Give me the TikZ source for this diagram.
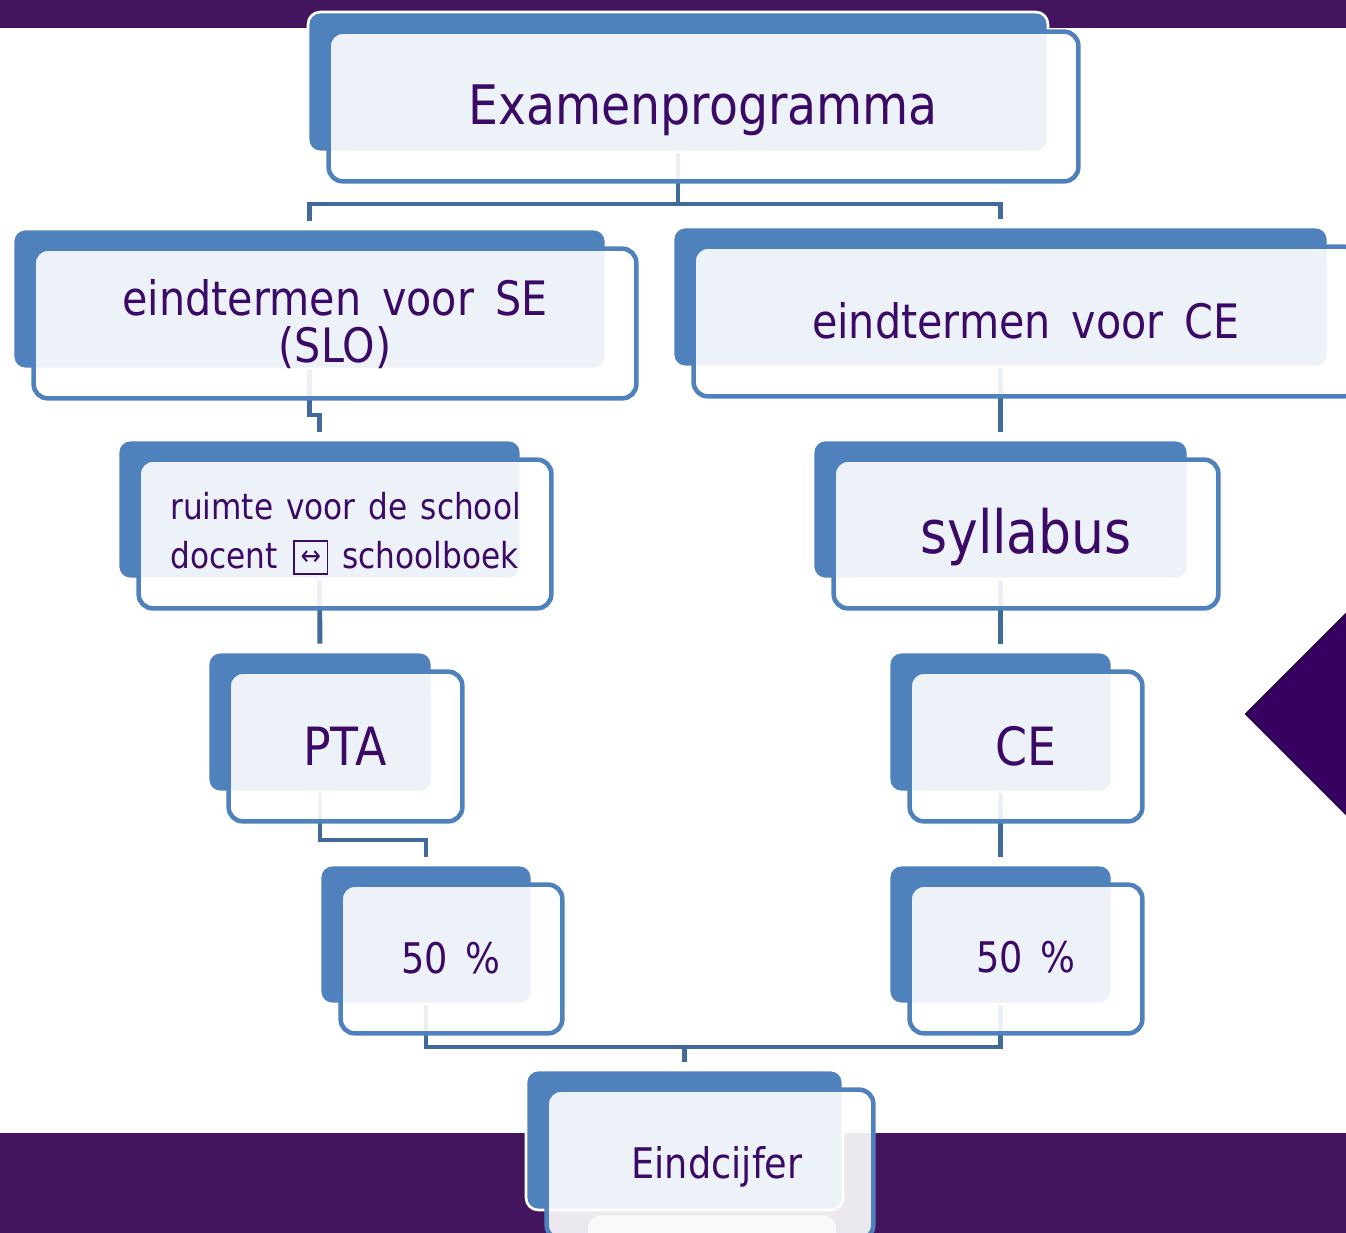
\documentclass[tikz,border=0pt]{standalone}
\usepackage{fontspec}
\setmainfont{DejaVu Sans}[FakeStretch=0.87]
\usetikzlibrary{fit}
\definecolor{bandpurple}{HTML}{42155E}
\definecolor{ruitpurple}{HTML}{380060}
\definecolor{ruitrand}{HTML}{2A0048}
\definecolor{blokblue}{HTML}{4F81BD}
\definecolor{lijnblue}{HTML}{41699A}
\definecolor{tekstpurple}{HTML}{3A0A66}
\newcommand{\woordruimte}[1]{\spaceskip #1\relax}
\tikzset{
	backbox/.style={fill=blokblue, draw=white, line width=1.5pt, rounded corners=7pt, inner sep=0pt},
	frontbox/.style={fill=white, fill opacity=0.9, draw=blokblue, line width=2.6pt, rounded corners=8pt},
	verbinding/.style={draw=lijnblue, line width=2.8pt, shorten >=4pt},
	tekst/.style={text=tekstpurple, inner sep=0pt, anchor=base}
}
\newcommand{\voorkant}[1]{%
	\draw[frontbox] ([shift={(22,21)}]#1.north west) rectangle ([shift={(29,28)}]#1.south east);}
\newcommand{\pijlbox}{\raisebox{-3pt}{\fboxsep=0pt\fboxrule=1pt\fbox{\makebox[18pt][c]{\rule{0pt}{18pt}\raisebox{4.2pt}{\fontsize{16}{16}\selectfont ↔}}}}}

\begin{document}
\begin{tikzpicture}[x=0.02cm,y=-0.02cm]
	\clip (0,0) rectangle (1346,1233);
	\fill[white] (0,0) rectangle (1346,1233);
	\fill[bandpurple] (0,0) rectangle (1346,28);
	\fill[bandpurple] (0,1133) rectangle (1346,1233);
	\draw[fill=ruitpurple, draw=ruitrand, line width=1.2pt] (1246,714) -- (1348,612) -- (1450,714) -- (1348,816) -- cycle;
	% achterste blokken
	\node[backbox, fit={(308,12) (1048,152)}] (exa) {};
	\node[backbox, fit={(13,229) (606,369)}] (se) {};
	\node[backbox, fit={(673,227) (1328,367)}] (ce) {};
	\node[backbox, fit={(118,440) (521,579)}] (ruimte) {};
	\node[backbox, fit={(813,440) (1188,579)}] (syl) {};
	\node[backbox, fit={(208,652) (432,792)}] (pta) {};
	\node[backbox, fit={(889,652) (1112,792)}] (cex) {};
	\node[backbox, fit={(320,865) (532,1004)}] (sel) {};
	\node[backbox, fit={(889,865) (1112,1004)}] (cel) {};
	\node[backbox, fit={(526,1070) (843,1210)}] (eind) {};
	% verbindingen
	\draw[verbinding] (exa.south) -- (exa.south |- 0,204) -| (se.north);
	\draw[verbinding] (exa.south) -- (exa.south |- 0,204) -| (ce.north);
	\draw[verbinding] (se.south) -- (se.south |- 0,415) -| (ruimte.north);
	\draw[verbinding] (ce.south) -- (syl.north);
	\draw[verbinding] (ruimte.south) -- (pta.north);
	\draw[verbinding] (syl.south) -- (cex.north);
	\draw[verbinding] (pta.south) -- (pta.south |- 0,840) -| (sel.north);
	\draw[verbinding] (cex.south) -- (cel.north);
	\draw[verbinding] (sel.south) -- (sel.south |- 0,1047) -| (eind.north);
	\draw[verbinding] (cel.south) -- (cel.south |- 0,1047) -| (eind.north);
	% voorste blokken
	\foreach \b in {exa,se,ce,ruimte,syl,pta,cex,sel,cel,eind}
		\voorkant{\b};
	\fill[white, fill opacity=0.75, rounded corners=8pt] (588,1215) rectangle (836,1250);
	% teksten
	\node[tekst, font=\fontsize{31}{31}\selectfont] (t-exa) at (703,125) {Examenprogramma};
	\node[tekst, font={\fontsize{27}{26.6}\selectfont\woordruimte{12pt}}, align=center] (t-se) at (335,362) {eindtermen voor SE\\(SLO)};
	\node[tekst, font={\fontsize{27}{26.6}\selectfont\woordruimte{12pt}}] (t-ce) at (1026,338) {eindtermen voor CE};
	\node[tekst, font={\fontsize{20.4}{27.8}\selectfont\woordruimte{7.4pt}}, align=left, anchor=base west] (t-ruimte) at (170,568) {ruimte voor de school\\docent\hspace{9pt}\pijlbox\hspace{8pt}schoolboek};
	\node[tekst, font=\fontsize{34}{34}\selectfont] (t-syl) at (1026,553) {syllabus};
	\node[tekst, font=\fontsize{30}{30}\selectfont] (t-pta) at (345,765) {PTA};
	\node[tekst, font=\fontsize{30}{30}\selectfont] (t-cex) at (1026,765) {CE};
	\node[tekst, font={\fontsize{24}{24}\selectfont\woordruimte{10pt}}] (t-sel) at (451,973) {50 \%};
	\node[tekst, font={\fontsize{24}{24}\selectfont\woordruimte{10pt}}] (t-cel) at (1026,972) {50 \%};
	\node[tekst, font=\fontsize{24}{24}\selectfont] (t-eind) at (717,1178) {Eindcijfer};
\end{tikzpicture}
\end{document}
